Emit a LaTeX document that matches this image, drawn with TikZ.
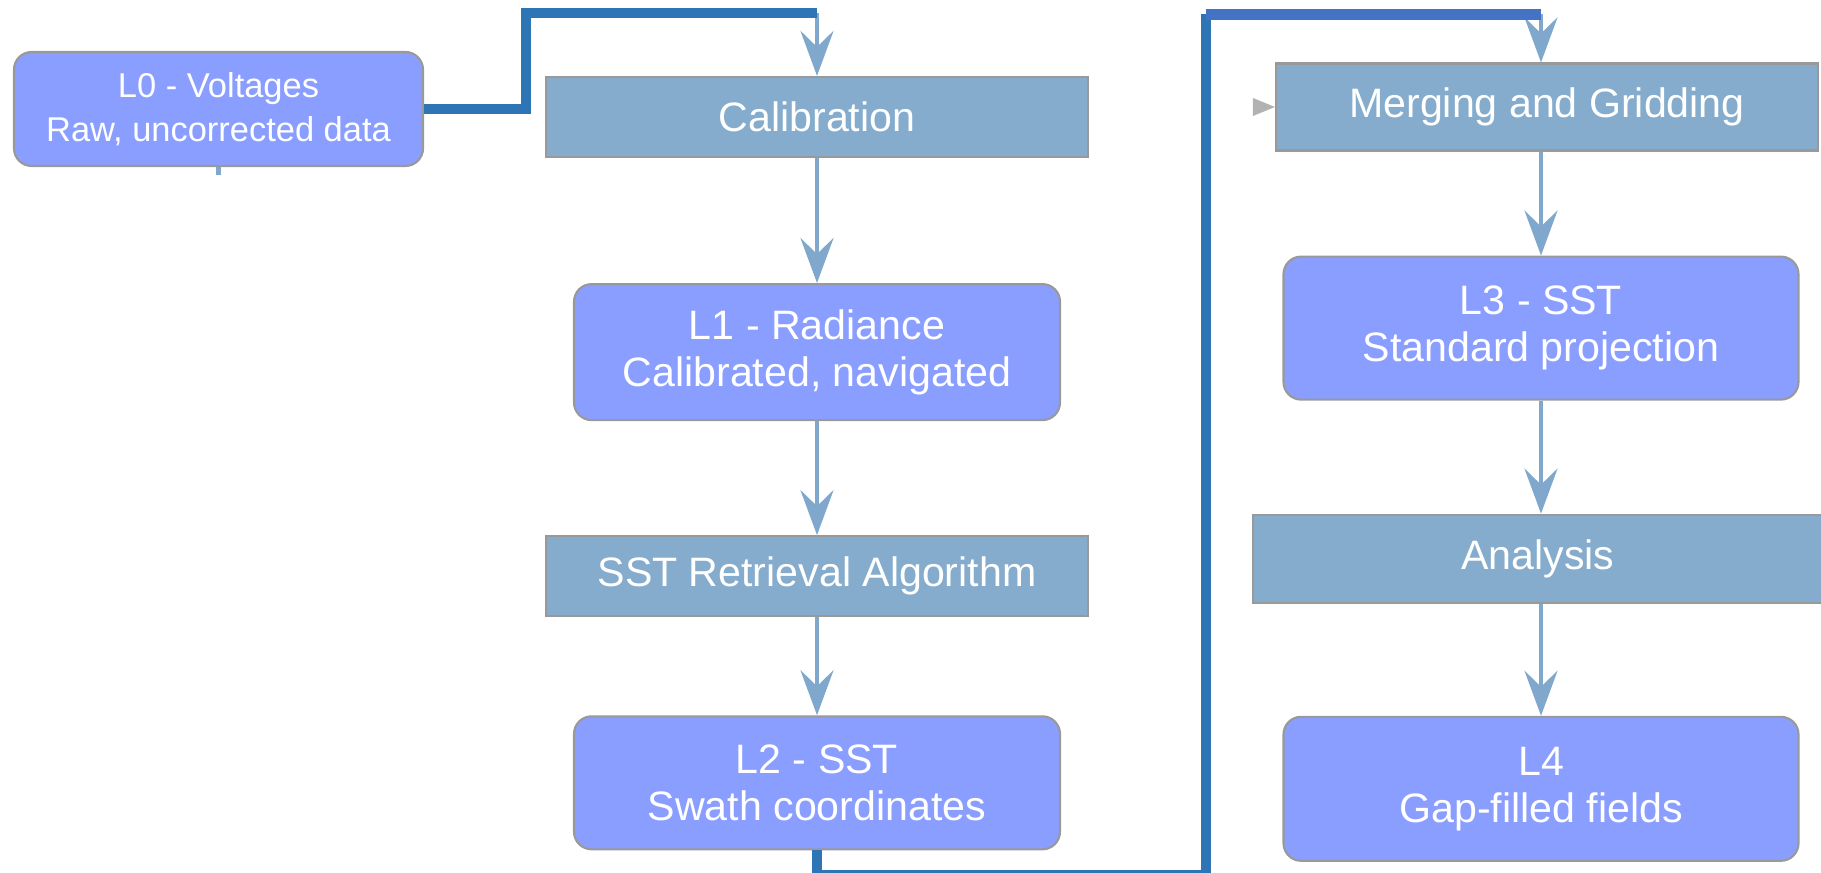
\documentclass[tikz,border=0pt]{standalone}
\usepackage{fontspec}
\setmainfont{Liberation Sans}
\usepackage{xcolor}
\usetikzlibrary{arrows.meta, positioning, calc}
\definecolor{lvlblue}{RGB}{138,158,255}
\definecolor{procblue}{RGB}{133,172,205}
\definecolor{flowblue}{RGB}{127,168,204}
\definecolor{linkblue}{RGB}{46,117,182}
\definecolor{linkblue2}{RGB}{68,114,196}

\begin{document}
\begin{tikzpicture}[
  every node/.style={font=\fontsize{11.7}{13.4}\selectfont, text=white},
  level/.style={
    draw=gray!80, fill=lvlblue, rounded corners=5pt, line width=0.6pt,
    align=center, minimum width=4.86cm, minimum height=1.36cm,
    inner sep=2pt
  },
  process/.style={
    draw=gray!80, fill=procblue, line width=0.6pt,
    align=center, minimum width=5.42cm, minimum height=0.8cm,
    inner sep=2pt
  },
  flow/.style={-{Stealth[length=4.5mm, width=3.3mm, inset=1.6mm]}, line width=1.2pt, color=flowblue},
  link/.style={line width=3pt, color=linkblue}
]
  \useasboundingbox (0,0) rectangle (18.21,-8.73);

  % Colonna sinistra
  \node[level, minimum width=4.09cm, minimum height=1.14cm, font=\fontsize{9.8}{12.5}\selectfont] (l0) at (2.185,-1.09) {L0 - Voltages\\Raw, uncorrected data};
  \node[process] (calib) at (8.17,-1.17) {Calibration};
  \node[level, below=1.25cm of calib] (l1) {L1 - Radiance\\Calibrated, navigated};
  \node[process, below=1.14cm of l1] (sst) {SST Retrieval Algorithm};
  \node[level, below=0.98cm of sst, minimum height=1.33cm] (l2) {L2 - SST\\Swath coordinates};

  % Colonna destra
  \node[process, minimum height=0.87cm] (merg) at (15.47,-1.07) {Merging and Gridding};
  \node[level, below=1.04cm of merg, xshift=-0.06cm, minimum width=5.15cm, minimum height=1.43cm] (l3) {L3 - SST\\Standard projection};
  \node[process, below=1.13cm of l3, xshift=-0.03cm, minimum width=5.7cm, minimum height=0.88cm] (anal) {Analysis};
  \node[level, below=1.12cm of anal, xshift=0.03cm, minimum width=5.15cm, minimum height=1.44cm] (l4) {L4\\Gap-filled fields};

  % Ingressi delle frecce
  \coordinate (calin) at ($(calib.north)+(0,0.63)$);
  \coordinate (mergin) at ($(merg.north -| l3.north)+(0,0.48)$);
  \coordinate (turn) at ($(mergin)+(-3.35,0)$);

  % Frecce verticali
  \draw[flow] (calin) -- (calib);
  \draw[flow] (calib) -- (l1);
  \draw[flow] (l1) -- (sst);
  \draw[flow] (sst) -- (l2);
  \draw[flow] (mergin) -- (mergin |- merg.north);
  \draw[flow] (l3.north |- merg.south) -- (l3.north);
  \draw[flow] (l3.south) -- (l3.south |- anal.north);
  \draw[flow] (l3.south |- anal.south) -- (l4.north);
  \draw[flowblue, line width=1.2pt] (l0.south) -- ++(0,-0.08);
  \fill[gray!60] (merg.west) -- ++(-0.22,0.09) -- ++(0,-0.18) -- cycle;

  % Collegamenti spessi
  \draw[link] (l0.east) -- ++(1.02,0) |- (calin);
  \draw[link] (l2.south) -- ++(0,-0.25) -| (turn);
  \draw[link, color=linkblue2] (turn) -- (mergin);

\end{tikzpicture}
\end{document}
